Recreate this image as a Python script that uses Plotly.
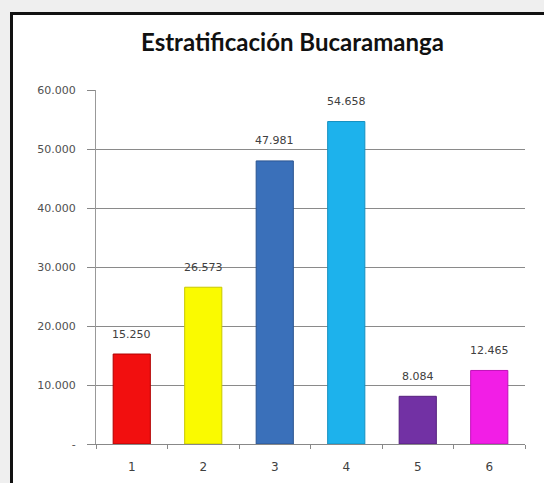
import plotly.graph_objects as go

categories = ["1", "2", "3", "4", "5", "6"]
values = [15250, 26573, 47981, 54658, 8084, 12465]
bar_colors = ["#F20F0F", "#FAFA00", "#3A70BA", "#1DB2EC", "#7231A4", "#F21EE6"]
edge_colors = ["#B00000", "#C8C800", "#2A5490", "#1590C0", "#55207E", "#C010B8"]
y_tickvals = [0, 10000, 20000, 30000, 40000, 50000, 60000]
y_ticktext = ["-", "10.000", "20.000", "30.000", "40.000", "50.000", "60.000"]
title_text = "Estratificación Bucaramanga"


def fmt(v):
    return f"{v:,}".replace(",", ".")


W, H = 544, 483
L, R, T, B = 96, 19, 90, 39
pw = W - L - R
ph = H - T - B


def px_x(x):
    return (x - L) / pw


def px_y(y):
    return (H - B - y) / ph


fig = go.Figure()
fig.add_trace(go.Bar(
    x=categories, y=values, width=0.52,
    marker=dict(color=bar_colors, line=dict(color=edge_colors, width=1)),
    hoverinfo="skip",
))

annots = []
for i, v in enumerate(values):
    annots.append(dict(x=i, y=v, xref="x", yref="y", text=fmt(v), showarrow=False, yshift=20,
                       font=dict(family="DejaVu Sans", size=11, color="#404040")))
annots.append(dict(text="<b>" + title_text + "</b>", xref="paper", yref="paper",
                   x=px_x(292), y=px_y(42), xanchor="center", yanchor="middle", showarrow=False,
                   font=dict(family="Lato", size=24, color="#111111")))

shapes = [
    dict(type="rect", xref="paper", yref="paper", x0=px_x(10), x1=px_x(600),
         y0=px_y(12), y1=px_y(520), fillcolor="white", line=dict(width=0), layer="below"),
    dict(type="line", xref="paper", yref="paper", x0=px_x(10), x1=px_x(600),
         y0=px_y(13.5), y1=px_y(13.5), line=dict(color="#111111", width=3)),
    dict(type="line", xref="paper", yref="paper", x0=px_x(11.5), x1=px_x(11.5),
         y0=px_y(12), y1=px_y(520), line=dict(color="#111111", width=3)),
]

fig.update_layout(
    width=W, height=H,
    margin=dict(l=L, r=R, t=T, b=B, pad=0, autoexpand=False),
    paper_bgcolor="#EFEFEF",
    plot_bgcolor="white",
    showlegend=False,
    shapes=shapes,
    annotations=annots,
)

fig.update_xaxes(
    type="category", range=[-0.5, 5.5], showgrid=False, showline=True,
    linecolor="#888888", linewidth=1,
    ticks="outside", tickson="boundaries", ticklen=4, tickcolor="#888888",
    tickfont=dict(family="DejaVu Sans", size=12, color="#404040"),
    ticklabelstandoff=12, fixedrange=True, automargin=False,
)
fig.update_yaxes(
    range=[0, 60000], tickvals=y_tickvals, ticktext=y_ticktext,
    showgrid=True, gridcolor="#8A8A8A", gridwidth=1,
    showline=True, linecolor="#999999", linewidth=1,
    ticks="outside", ticklen=8, tickcolor="#888888",
    tickfont=dict(family="DejaVu Sans", size=11, color="#505050"),
    ticklabelstandoff=9, zeroline=False, fixedrange=True, automargin=False,
)

fig.write_html("out.html", config={"displayModeBar": False},
               post_script="document.body.style.margin='0';document.body.style.overflow='hidden';")
